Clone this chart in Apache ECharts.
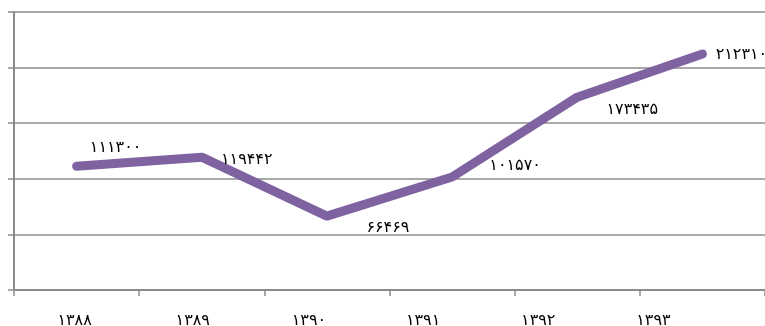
<!DOCTYPE html>
<html>
<head>
<meta charset="utf-8">
<script src="https://cdn.jsdelivr.net/npm/echarts@6/dist/echarts.min.js"></script>
<style>
  html, body { margin: 0; padding: 0; background: #fff; }
  #chart { width: 765px; height: 326px; }
</style>
</head>
<body>
<div id="chart"></div>
<script>
// Yearly totals, 1388–1393 (Solar Hijri)
const years = ['۱۳۸۸', '۱۳۸۹', '۱۳۹۰', '۱۳۹۱', '۱۳۹۲', '۱۳۹۳'];
const totals = [111300, 119442, 66469, 101570, 173435, 212310];
// where each value label sits relative to its point
const labelOffsets = [[39, -18], [45, 3], [61, 12], [63, -11], [55, 13], [39, 1]];
// year labels drift leftwards of their category centres (px)
const yearShift = [2, 9, 18, 29, 39, 49];

const persianDigits = '۰۱۲۳۴۵۶۷۸۹';
const toPersian = n => String(n).replace(/[0-9]/g, d => persianDigits[+d]);

const grey = '#8c8c8c';
const purple = '#7f63a1';
const font = '"DejaVu Sans", sans-serif';

const yearRich = {};
yearShift.forEach((s, i) => {
  yearRich['y' + i] = { color: '#000', fontSize: 16, fontFamily: font, padding: [0, 2 * s, 0, 0] };
});

const chart = echarts.init(document.getElementById('chart'), null, { renderer: 'canvas' });
chart.setOption({
  animation: false,
  grid: { left: 14, right: 0, top: 12, bottom: 36, containLabel: false, outerBoundsMode: 'none' },
  xAxis: {
    type: 'category',
    data: years,
    boundaryGap: true,
    axisLine: { lineStyle: { color: grey, width: 2 } },
    axisTick: { show: true, length: 6, lineStyle: { color: grey, width: 1.5 } },
    axisLabel: {
      color: '#000', fontSize: 16, fontFamily: font, margin: 23,
      formatter: (v, i) => '{y' + i + '|' + v + '}',
      rich: yearRich
    }
  },
  yAxis: {
    type: 'value',
    min: 0,
    max: 250000,
    interval: 50000,
    axisLine: { show: true, lineStyle: { color: grey, width: 2 } },
    axisTick: { show: true, length: 6, lineStyle: { color: grey, width: 1.5 } },
    axisLabel: { show: false },
    splitLine: { lineStyle: { color: grey, width: 1.5 } }
  },
  series: [{
    type: 'line',
    data: totals.map((v, i) => ({
      value: v,
      label: { offset: labelOffsets[i] }
    })),
    symbol: 'circle',
    symbolSize: 1,
    itemStyle: { color: purple },
    lineStyle: { color: purple, width: 9, cap: 'round', join: 'round' },
    label: {
      show: true,
      position: 'inside',
      align: 'center',
      verticalAlign: 'middle',
      color: '#000',
      fontSize: 16,
      fontFamily: font,
      formatter: p => toPersian(p.value)
    }
  }]
});
</script>
</body>
</html>
